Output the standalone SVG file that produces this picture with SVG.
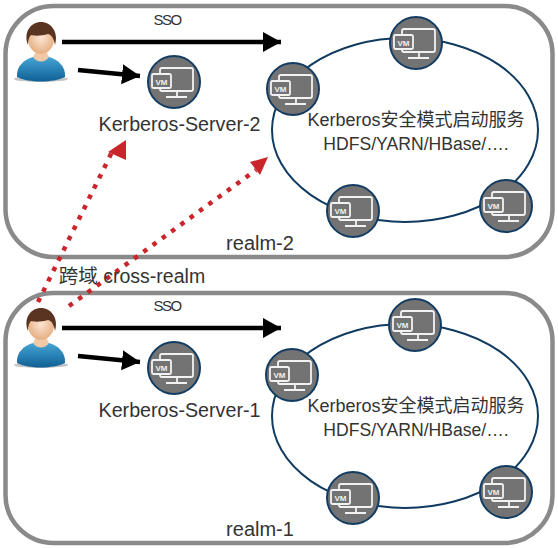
<svg xmlns="http://www.w3.org/2000/svg" width="558" height="548" viewBox="0 0 558 548">
<style>
.frame{fill:#fff;stroke:#8a8a8a;stroke-width:4.5}
.ring{fill:none;stroke:#103a60;stroke-width:2}
.vmc{fill:#737373;stroke:#123c62;stroke-width:2}
.vml{fill:none;stroke:#f2f2f2;stroke-width:1.800}
.vmb{fill:#737373;stroke:#f2f2f2;stroke-width:1.800}
.t{font-family:"Liberation Sans","Noto Sans CJK SC",sans-serif;fill:#333;font-size:18px;text-anchor:middle}
.s{font-size:15px;letter-spacing:-1.500px}
.b{font-size:19.700px}
.m{font-size:17.600px}
.e{font-size:20px}
.c{font-size:19.500px}
.k{stroke:#000;stroke-width:4.500;fill:none}
.r{stroke:#c9252b;stroke-width:4.500;stroke-dasharray:4.500 7;fill:none}
</style>
<defs>
<radialGradient id="face" cx="0.5" cy="0.45" r="0.6"><stop offset="0" stop-color="#fde6d4"/><stop offset="1" stop-color="#e3aa7a"/></radialGradient>
<linearGradient id="shirt" x1="0" y1="0" x2="0" y2="1"><stop offset="0" stop-color="#45a5d4"/><stop offset="1" stop-color="#0f5f95"/></linearGradient>
<g id="vm">
<circle r="26" class="vmc"/>
<rect x="-14" y="-14" width="33" height="23" rx="2" class="vml"/>
<path d="M3 9V14M-8 15H13" class="vml"/>
<rect x="-22" y="-8" width="19" height="14" rx="1.500" class="vmb"/>
<text x="-12.500" y="2.500" font-family="'Liberation Sans',sans-serif" font-size="8" font-weight="bold" fill="#f2f2f2" text-anchor="middle">VM</text>
</g>
<g id="user">
<ellipse cx="0" cy="37" rx="27" ry="3" fill="#c4c4c4"/>
<path d="M-24 35C-25 24-16 17-8 15H8C16 17 25 24 24 35C12 41-12 41-24 35Z" fill="url(#shirt)"/>
<path d="M-8 15C-4 21 4 21 8 15L5 9H-5Z" fill="#f2c9a6"/>
<ellipse cx="0" cy="-3" rx="13" ry="15" fill="url(#face)"/>
<path d="M-13 3C-18-10-10-20 0-20C10-20 18-10 14 3C13-3 11-7 7-8C1-6-7-6-10-7C-12-5-13-2-13 3Z" fill="#5a3420"/>
</g>
<marker id="ka" markerUnits="userSpaceOnUse" markerWidth="20" markerHeight="22" refX="18" refY="11" orient="auto"><path d="M0 1L18 11L0 21Z" fill="#000"/></marker>
</defs>
<rect class="frame" x="5.500" y="6" width="547" height="251" rx="48"/>
<rect class="frame" x="5.500" y="293" width="547" height="250" rx="48"/>
<g id="ring-2"><ellipse class="ring" cx="405" cy="130" rx="133" ry="92"/></g>
<g id="ring-1"><ellipse class="ring" cx="405" cy="416" rx="133" ry="92"/></g>
<g id="connectors">
<path class="k" d="M62 42H281" marker-end="url(#ka)"/>
<path class="k" d="M78 70L140 76" marker-end="url(#ka)"/>
<path class="k" d="M62 328H281" marker-end="url(#ka)"/>
<path class="k" d="M78 356L140 362" marker-end="url(#ka)"/>
<path class="r" d="M38 302L112 152"/>
<path d="M126 140L108 152L126 160Z" fill="#c9252b"/>
<path class="r" d="M69 306L256 170"/>
<path d="M268 157L250 162L260 175Z" fill="#c9252b"/>
</g>
<g id="user-2"><use href="#user" x="41" y="42"/></g>
<g id="user-1"><use href="#user" x="41" y="328"/></g>
<g id="server-2"><use href="#vm" x="174" y="82"/><text class="t b" x="179.500" y="131">Kerberos-Server-2</text></g>
<g id="server-1"><use href="#vm" x="174" y="368"/><text class="t b" x="179.500" y="417">Kerberos-Server-1</text></g>
<g id="vm2a"><use href="#vm" x="416" y="43"/></g>
<g id="vm2b"><use href="#vm" x="293" y="89"/></g>
<g id="vm2c"><use href="#vm" x="353" y="211"/></g>
<g id="vm2d"><use href="#vm" x="506" y="206"/></g>
<g id="vm1a"><use href="#vm" x="415" y="325"/></g>
<g id="vm1b"><use href="#vm" x="292" y="375"/></g>
<g id="vm1c"><use href="#vm" x="353" y="498"/></g>
<g id="vm1d"><use href="#vm" x="506" y="492"/></g>
<g id="labels">
<text class="t s" x="167" y="25">SSO</text>
<text class="t s" x="167" y="311">SSO</text>
<text class="t" x="416" y="126">Kerberos安全模式启动服务</text>
<text class="t m" x="416" y="150">HDFS/YARN/HBase/….</text>
<text class="t" x="416" y="412">Kerberos安全模式启动服务</text>
<text class="t m" x="416" y="436">HDFS/YARN/HBase/….</text>
<text class="t e" x="260" y="250">realm-2</text>
<text class="t e" x="260" y="536">realm-1</text>
<text class="t c" x="132" y="283">跨域 cross-realm</text>
</g>
</svg>
